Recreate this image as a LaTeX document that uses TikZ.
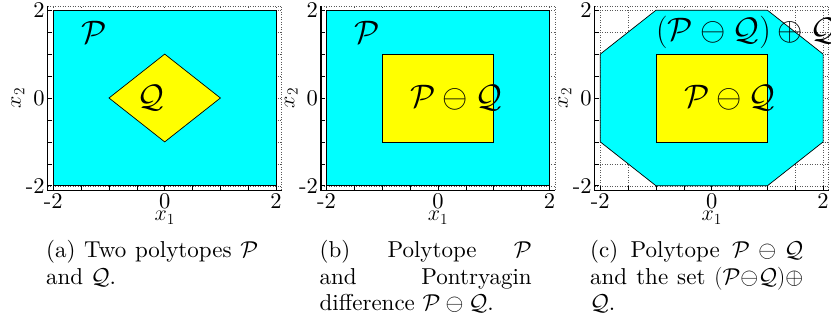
\RequirePackage{fix-cm}
\documentclass[tikz,border=0pt]{standalone}
\usepackage{fontspec}
\setmainfont{lmroman10-regular.otf}
\definecolor{mcyan}{RGB}{0,255,255}
\definecolor{myellow}{RGB}{255,255,0}
\tikzset{
  ax/.style={line width=1.1pt, black},
  tickmark/.style={line width=0.6pt, black},
  gridl/.style={dotted, gray!70!black, line width=0.5pt},
  setP/.style={fill=mcyan, draw=black, line width=0.7pt},
  setQ/.style={fill=myellow, draw=black, line width=0.7pt},
  lbl/.style={inner sep=0pt, font=\fontsize{22.5}{27}\selectfont},
  axlbl/.style={inner sep=0pt, font=\fontsize{22}{26}\selectfont},
  biglbl/.style={inner sep=0pt, anchor=west, font=\fontsize{32.5}{38}\selectfont},
  captext/.style={inner sep=0pt, anchor=base west, font=\fontsize{23}{26.5}\selectfont},
}
\newcommand\PanelGrid{%
  \foreach \v in {-2,-1.5,...,2} {
    \draw[gridl] (\v,-2.1) -- (\v,2.1);
    \draw[gridl] (-2.1,\v) -- (2.1,\v);
  }
  \draw[gridl] (-2.1,2.1) -- (2.1,2.1) -- (2.1,-2.1);
}
\newcommand\PanelAxes[1]{%
  \draw[ax] (-2.1,2.1) -- (-2.1,-2.1) -- (2.1,-2.1);
  \foreach \v in {-2,-1.5,...,2} {
    \draw[tickmark] (\v,-2.1) -- ++(0,4pt);
    \draw[tickmark] (-2.1,\v) -- ++(4pt,0);
  }
  \foreach \v/\t [count=\i] in {-2/-2,0/0,2/2} {
    \node[lbl, anchor=base] (#1xt\i) at (\v,-2.51) {\t};
    \node[lbl, anchor=east] (#1yt\i) at ([xshift=-3pt]-2.1,\v) {\t};
  }
  \node[axlbl, anchor=base] (#1xl) at (0,-2.8) {$x_1$};
  \node[axlbl, anchor=base, rotate=90] (#1yl) at (-2.58,0) {$x_2$};
}
\begin{document}
\begin{tikzpicture}
\useasboundingbox (0,0) rectangle (831pt,320pt);
% panel (a)
\begin{scope}[shift={(164.7pt,222pt)}, x=55.7pt, y=43.9pt]
  \PanelGrid
  \draw[setP] (-2,-2) rectangle (2,2);
  \draw[setQ] (-1,0) -- (0,1) -- (1,0) -- (0,-1) -- cycle;
  \PanelAxes{a}
  \node[biglbl] (aP) at (-1.5,1.5) {$\mathcal{P}$};
  \node[biglbl] (aQ) at (-0.5,0) {$\mathcal{Q}$};
\end{scope}
% panel (b)
\begin{scope}[shift={(438pt,222pt)}, x=55.7pt, y=43.9pt]
  \PanelGrid
  \draw[setP] (-2,-2) rectangle (2,2);
  \draw[setQ] (-1,-1) rectangle (1,1);
  \PanelAxes{b}
  \node[biglbl] (bP) at (-1.5,1.5) {$\mathcal{P}$};
  \node[biglbl] (bD) at (-0.5,0) {$\mathcal{P}\ominus\mathcal{Q}$};
\end{scope}
% panel (c)
\begin{scope}[shift={(711.7pt,222pt)}, x=55.7pt, y=43.9pt]
  \PanelGrid
  \draw[setP] (-1,2) -- (1,2) -- (2,1) -- (2,-1) -- (1,-2) -- (-1,-2) -- (-2,-1) -- (-2,1) -- cycle;
  \draw[setQ] (-1,-1) rectangle (1,1);
  \PanelAxes{c}
  \node[biglbl] (cD) at (-0.5,0) {$\mathcal{P}\ominus\mathcal{Q}$};
  \node[biglbl] (cS) at (-1,1.5) {$(\mathcal{P}\ominus\mathcal{Q})\oplus\mathcal{Q}$};
\end{scope}
% captions
\node[captext] (capa) at (46pt,62pt) {\parbox[t]{212pt}{\hyphenpenalty=10000\tolerance=9999(a) Two polytopes $\mathcal{P}$\linebreak and $\mathcal{Q}$.}};
\node[captext] (capb) at (319.5pt,62pt) {\parbox[t]{212pt}{\hyphenpenalty=10000\tolerance=9999(b) Polytope $\mathcal{P}$\linebreak and Pontryagin\linebreak difference $\mathcal{P}\ominus\mathcal{Q}$.}};
\node[captext] (capc) at (590pt,62pt) {\parbox[t]{213pt}{\hyphenpenalty=10000\tolerance=9999(c) Polytope $\mathcal{P}\ominus\mathcal{Q}$\linebreak and the set $(\mathcal{P}{\ominus}\mathcal{Q})\oplus$\linebreak $\mathcal{Q}$.}};
\end{tikzpicture}
\end{document}
